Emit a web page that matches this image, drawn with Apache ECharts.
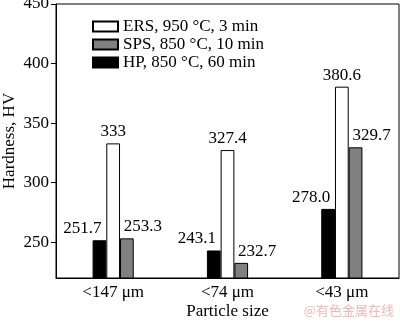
<!DOCTYPE html>
<html><head><meta charset="utf-8">
<script src="https://cdn.jsdelivr.net/npm/echarts@6/dist/echarts.min.js"></script>
<style>html,body{margin:0;padding:0;background:#fff}#c{width:400px;height:321px}</style>
</head><body><div id="c"></div>
<script>
const categories = ['<147 μm', '<74 μm', '<43 μm'];
const hpValues = [251.7, 243.1, 278.0];
const ersValues = [333, 327.4, 380.6];
const spsValues = [253.3, 232.7, 329.7];
const hpLabels = ['251.7', '243.1', '278.0'];
const ersLabels = ['333', '327.4', '380.6'];
const spsLabels = ['253.3', '232.7', '329.7'];
const yTicks = [250, 300, 350, 400, 450];
const seriesNames = ['ERS, 950 °C, 3 min', 'SPS, 850 °C, 10 min', 'HP, 850 °C, 60 min'];

const font = 'Liberation Serif';
const fs = 17;
const chart = echarts.init(document.getElementById('c'));
function mk(name, vals, labels, color, off) {
  return {
    name: name, type: 'bar', data: vals, barGap: '0%', barCategoryGap: '64%',
    itemStyle: { color: color, borderColor: '#000', borderWidth: 1 },
    label: { show: true, position: 'top', distance: 3, offset: off,
      formatter: p => labels[p.dataIndex], fontFamily: font, fontSize: fs, color: '#000' }
  };
}
chart.setOption({
  animation: false,
  textStyle: { fontFamily: font },
  grid: { left: 56, right: 1, top: 4, bottom: 43, outerBoundsMode: 'none', containLabel: false,
    show: true, borderColor: '#000', borderWidth: 1 },
  legend: {
    orient: 'vertical', left: 87, top: 13, itemWidth: 25, itemHeight: 10, itemGap: 1, icon: 'rect',
    data: seriesNames,
    textStyle: { fontFamily: font, fontSize: fs, color: '#000' }
  },
  xAxis: {
    type: 'category', data: categories,
    name: 'Particle size', nameLocation: 'middle', nameGap: 25, nameMoveOverlap: false,
    nameTextStyle: { fontFamily: font, fontSize: fs, color: '#000' },
    axisLine: { lineStyle: { color: '#000' } },
    axisTick: { show: false },
    axisLabel: { fontFamily: font, fontSize: fs, color: '#000', margin: 6 }
  },
  yAxis: {
    type: 'value', min: 220, max: 450,
    name: 'Hardness, HV', nameLocation: 'middle', nameGap: 38, nameMoveOverlap: false,
    nameTextStyle: { fontFamily: font, fontSize: fs, color: '#000' },
    axisLine: { show: true, lineStyle: { color: '#000' } },
    axisTick: { show: true, length: 5, customValues: yTicks, lineStyle: { color: '#000' } },
    axisLabel: { fontFamily: font, fontSize: fs, color: '#000', margin: 7, customValues: yTicks },
    splitLine: { show: false }
  },
  graphic: [{ type: 'text', right: 6, bottom: 4, style: { text: '@有色金属在线', fill: '#f2b8b8', font: '13px "Noto Sans CJK SC"' } }],
  series: [
    mk(seriesNames[2], hpValues, hpLabels, '#000', [-17, 0]),
    mk(seriesNames[0], ersValues, ersLabels, '#fff', [0, 0]),
    mk(seriesNames[1], spsValues, spsLabels, '#808080', [16, 0])
  ]
});
</script></body></html>
